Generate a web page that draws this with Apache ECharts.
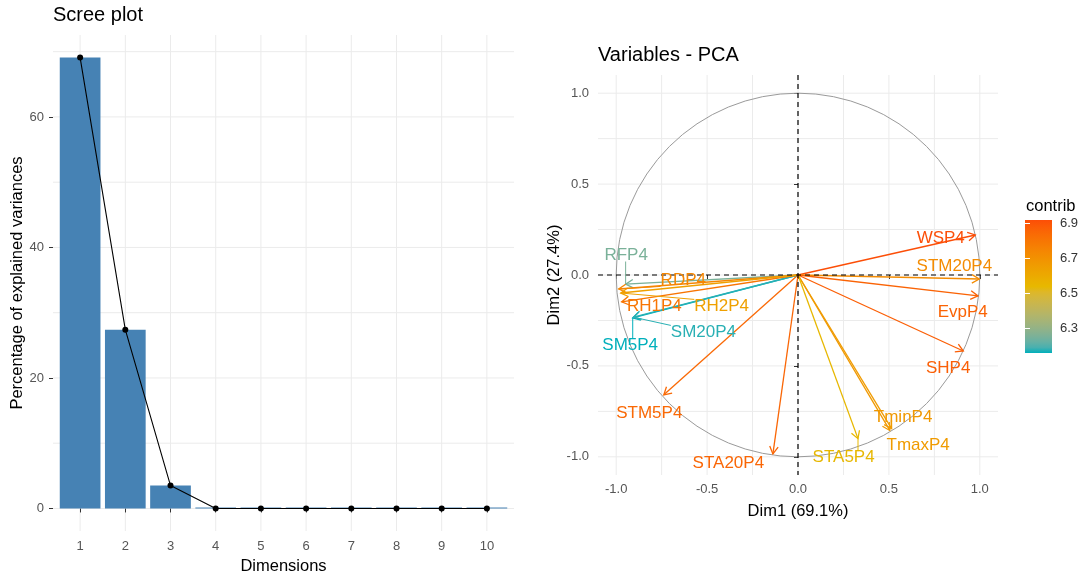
<!DOCTYPE html>
<html><head><meta charset="utf-8">
<script src="https://cdn.jsdelivr.net/npm/echarts@6/dist/echarts.min.js"></script>
<style>html,body{margin:0;padding:0;background:#fff}#c{width:1090px;height:575px}</style>
</head><body><div id="c"></div>
<script>
// ---------- data ----------
const dims = ['1','2','3','4','5','6','7','8','9','10'];
const variance = [69.1, 27.4, 3.5, 0, 0, 0, 0, 0, 0, 0];
const screeYTicks = [0, 20, 40, 60];
const screeYGrid = [0, 10, 20, 30, 40, 50, 60, 70];

const varNames = ['WSP4','STM20P4','EvpP4','SHP4','TminP4','TmaxP4','STA5P4','STA20P4','STM5P4','SM5P4','SM20P4','RFP4','RDP4','RH1P4','RH2P4'];
const dim1 = [0.975, 0.997, 0.99, 0.909, 0.505, 0.515, 0.33, -0.138, -0.738, -0.909, -0.905, -0.948, -0.986, -0.97, -0.975];
const dim2 = [0.22, -0.022, -0.115, -0.418, -0.855, -0.845, -0.90, -0.984, -0.659, -0.236, -0.232, -0.05, -0.077, -0.148, -0.099];
const contrib = [6.917, 6.72, 6.86, 6.87, 6.67, 6.66, 6.54, 6.85, 6.84, 6.157, 6.175, 6.25, 6.74, 6.80, 6.64];
const labelDim1 = [0.785, 0.86, 0.906, 0.826, 0.578, 0.661, 0.251, -0.383, -0.818, -0.923, -0.52, -0.945, -0.631, -0.79, -0.42];
const labelDim2 = [0.203, 0.05, -0.203, -0.511, -0.78, -0.934, -1.005, -1.033, -0.758, -0.385, -0.313, 0.11, -0.027, -0.17, -0.17];
const pcaTicks = [-1, -0.5, 0, 0.5, 1];
const pcaGrid = [-1, -0.75, -0.5, -0.25, 0, 0.25, 0.5, 0.75, 1];
const contribTicks = [6.3, 6.5, 6.7, 6.9];
const gradientCols = ['#00AFBB', '#E7B800', '#FC4E07'];

// ---------- helpers ----------
const FF = '"Liberation Sans", Arial, Helvetica, sans-serif';
const dimNum = dims.map(Number);
const maxVar = Math.max(...variance);
const cMin = Math.min(...contrib), cMax = Math.max(...contrib);

function hex2rgb(h){ h=h.replace('#',''); return [0,2,4].map(i=>parseInt(h.substr(i,2),16)/255); }
function lin(c){ return c<=0.04045 ? c/12.92 : Math.pow((c+0.055)/1.055,2.4); }
function gam(c){ c = c<=0.0031308 ? 12.92*c : 1.055*Math.pow(c,1/2.4)-0.055; return Math.max(0,Math.min(1,c)); }
function rgb2lab(rgb){
  const [r,g,b] = rgb.map(lin);
  const X=(0.4124*r+0.3576*g+0.1805*b)/0.95047, Y=(0.2126*r+0.7152*g+0.0722*b), Z=(0.0193*r+0.1192*g+0.9505*b)/1.08883;
  const f=t=> t>0.008856 ? Math.cbrt(t) : 7.787*t+16/116;
  const fx=f(X), fy=f(Y), fz=f(Z);
  return [116*fy-16, 500*(fx-fy), 200*(fy-fz)];
}
function lab2hex(lab){
  const [L,a,b]=lab; const fy=(L+16)/116, fx=fy+a/500, fz=fy-b/200;
  const fi=t=> t*t*t>0.008856 ? t*t*t : (t-16/116)/7.787;
  const X=fi(fx)*0.95047, Y=fi(fy), Z=fi(fz)*1.08883;
  const r=3.2406*X-1.5372*Y-0.4986*Z, g=-0.9689*X+1.8758*Y+0.0415*Z, bb=0.0557*X-0.2040*Y+1.0570*Z;
  return '#'+[r,g,bb].map(c=>Math.round(gam(c)*255).toString(16).padStart(2,'0')).join('');
}
// Lab-interpolated gradient (like ggplot's gradientn)
const labs = gradientCols.map(c=>rgb2lab(hex2rgb(c)));
const NSTOP = 25;
const rampCols = [];
for (let k=0;k<NSTOP;k++){
  const t = k/(NSTOP-1)*(labs.length-1);
  const i = Math.min(Math.floor(t), labs.length-2), f = t-i;
  rampCols.push(lab2hex(labs[i].map((v,j)=>v+(labs[i+1][j]-v)*f)));
}

const mctx = document.createElement('canvas').getContext('2d');
const LABEL_FONT = '17px ' + FF;
mctx.font = LABEL_FONT;

function hLines(gi, values, style, z){
  return {type:'custom', xAxisIndex:gi, yAxisIndex:gi, z, silent:true, clip:false,
    data: values.map(v=>[v, v]),
    renderItem(params, api){
      const cs = params.coordSys;
      const y = api.coord([0, api.value(1)])[1];
      return {type:'line', shape:{x1:cs.x, y1:y, x2:cs.x+cs.width, y2:y}, style};
    }};
}
function vLines(gi, values, style, z){
  return {type:'custom', xAxisIndex:gi, yAxisIndex:gi, z, silent:true, clip:false,
    data: values.map(v=>[v, v]),
    renderItem(params, api){
      const cs = params.coordSys;
      const x = api.coord([api.value(0), 0])[0];
      return {type:'line', shape:{x1:x, y1:cs.y, x2:x, y2:cs.y+cs.height}, style};
    }};
}
const gridStyle = {stroke:'#ebebeb', lineWidth:1};
const minorStyle = {stroke:'#efefef', lineWidth:0.8};
const tickColor = '#333';
const labelColor = '#555';

const varData = varNames.map((n,i)=>({name:n, value:[dim1[i], dim2[i], contrib[i], labelDim1[i], labelDim2[i]]}));

const series = [
  // 0,1 scree grid
  hLines(0, screeYGrid, gridStyle, 0),
  vLines(0, dimNum, gridStyle, 0),
  // 2 bars
  {type:'bar', xAxisIndex:0, yAxisIndex:0, z:2, barWidth:40.7, barMinHeight:1,
   data: dimNum.map((d,i)=>[d, variance[i]]), itemStyle:{color:'#4682B4'}, silent:true},
  // 3 line + points
  {type:'line', xAxisIndex:0, yAxisIndex:0, z:3, data: dimNum.map((d,i)=>[d, variance[i]]),
   symbol:'circle', symbolSize:6, showSymbol:true, itemStyle:{color:'#000'}, lineStyle:{color:'#000', width:1.1}, silent:true},
  // 4,5 pca grid
  hLines(1, pcaGrid, gridStyle, 0),
  vLines(1, pcaGrid, gridStyle, 0),
  // 6 circle
  {type:'custom', xAxisIndex:1, yAxisIndex:1, z:1, silent:true, clip:false, data:[[0,0]],
   renderItem(params, api){
     const o = api.coord([0,0]); const r = api.coord([1,0])[0]-o[0];
     return {type:'circle', shape:{cx:o[0], cy:o[1], r}, style:{stroke:'#9a9a9a', lineWidth:1, fill:'none'}};
   }},
  // 7 arrows
  {type:'custom', xAxisIndex:1, yAxisIndex:1, z:3, silent:true, clip:false, data: varData,
   renderItem(params, api){
     const o = api.coord([0,0]);
     const p = api.coord([api.value(0), api.value(1)]);
     const col = api.visual('color');
     const ang = Math.atan2(p[1]-o[1], p[0]-o[0]);
     const L = 8.5, A = Math.PI/6;
     return {type:'group', children:[
       {type:'line', shape:{x1:o[0], y1:o[1], x2:p[0], y2:p[1]}, style:{stroke:col, lineWidth:1.3}},
       {type:'polyline', shape:{points:[[p[0]-L*Math.cos(ang-A), p[1]-L*Math.sin(ang-A)], [p[0],p[1]], [p[0]-L*Math.cos(ang+A), p[1]-L*Math.sin(ang+A)]]},
        style:{stroke:col, lineWidth:1.3, fill:'none'}}
     ]};
   }},
  // 8 zero dashed lines
  {type:'custom', xAxisIndex:1, yAxisIndex:1, z:4, silent:true, clip:false, data:[[0,0]],
   renderItem(params, api){
     const cs = params.coordSys; const o = api.coord([api.value(0), api.value(1)]);
     const st = {stroke:'#000', lineWidth:1.2, lineDash:[5,4]};
     return {type:'group', children:[
       {type:'line', shape:{x1:cs.x, y1:o[1], x2:cs.x+cs.width, y2:o[1]}, style:st},
       {type:'line', shape:{x1:o[0], y1:cs.y, x2:o[0], y2:cs.y+cs.height}, style:st}
     ]};
   }},
  // 9 labels
  {type:'custom', xAxisIndex:1, yAxisIndex:1, z:5, silent:true, clip:false, data: varData,
   renderItem(params, api){
     const name = varNames[params.dataIndex];
     const p = api.coord([api.value(0), api.value(1)]);
     const lp = api.coord([api.value(3), api.value(4)]);
     const col = api.visual('color');
     const w = mctx.measureText(name).width, h = 13;
     const nx = Math.max(lp[0]-w/2, Math.min(p[0], lp[0]+w/2));
     const ny = Math.max(lp[1]-h/2, Math.min(p[1], lp[1]+h/2));
     const d = Math.hypot(p[0]-nx, p[1]-ny);
     const children = [];
     if (d > 12) children.push({type:'line', shape:{x1:p[0], y1:p[1], x2:nx, y2:ny}, style:{stroke:col, lineWidth:1}});
     children.push({type:'text', x:lp[0], y:lp[1], style:{text:name, fill:col, font:LABEL_FONT, align:'center', verticalAlign:'middle'}});
     return {type:'group', children};
   }},
  // 10 colorbar
  {type:'custom', xAxisIndex:2, yAxisIndex:2, z:1, silent:true, clip:false, data:[[0.5, cMin]],
   renderItem(params, api){
     const cs = params.coordSys;
     const top = api.coord([0, cMax])[1], bot = api.coord([0, cMin])[1];
     const stops = rampCols.map((c,k)=>({offset: 1 - k/(rampCols.length-1), color:c})).reverse();
     return {type:'rect', shape:{x:cs.x, y:top, width:cs.width, height:bot-top},
       style:{fill:{type:'linear', x:0, y:0, x2:0, y2:1, colorStops:stops}}};
   }}
];

const axisTitle = {fontSize:16.5, color:'#000', fontFamily:FF};
const tickLabel = {fontSize:13, color:labelColor, fontFamily:FF};

const option = {
  animation:false,
  backgroundColor:'#fff',
  textStyle:{fontFamily:FF},
  title:[
    {text:'Scree plot', left:53, top:5, padding:0, textStyle:{fontSize:20, fontWeight:'normal', color:'#000', fontFamily:FF}},
    {text:'Variables - PCA', left:598, top:45, padding:0, textStyle:{fontSize:20, fontWeight:'normal', color:'#000', fontFamily:FF}},
    {text:'contrib', left:1026, top:198, padding:0, textStyle:{fontSize:16.5, fontWeight:'normal', color:'#000', fontFamily:FF}}
  ],
  grid:[
    {left:53, top:35, width:461, height:496, outerBoundsMode:'none'},
    {left:598, top:75, width:400, height:400, outerBoundsMode:'none'},
    {left:1025, top:220, width:27, height:133, outerBoundsMode:'none'}
  ],
  visualMap:[{type:'continuous', show:false, seriesIndex:[7,9], dimension:2, min:cMin, max:cMax, inRange:{color:rampCols}}],
  xAxis:[
    {type:'value', gridIndex:0, min:dimNum[0]-0.6, max:dimNum[dimNum.length-1]+0.6,
     axisLine:{show:false}, splitLine:{show:false},
     axisTick:{show:true, length:4, customValues:dimNum, lineStyle:{color:tickColor, width:1}},
     axisLabel:{customValues:dimNum, margin:9, ...tickLabel, formatter:v=>dims[Math.round(v)-1]},
     name:'Dimensions', nameLocation:'middle', nameGap:26, nameTextStyle:axisTitle},
    {type:'value', gridIndex:1, min:-1.1, max:1.1,
     axisLine:{show:false}, splitLine:{show:false},
     axisTick:{show:true, length:4, customValues:pcaTicks, lineStyle:{color:tickColor, width:1}},
     axisLabel:{customValues:pcaTicks, margin:8, ...tickLabel, formatter:v=>v.toFixed(1)},
     name:'Dim1 (' + variance[0].toFixed(1) + '%)', nameLocation:'middle', nameGap:28, nameTextStyle:axisTitle},
    {type:'value', gridIndex:2, min:0, max:1, show:false}
  ],
  yAxis:[
    {type:'value', gridIndex:0, min:-0.05*maxVar, max:1.05*maxVar,
     axisLine:{show:false}, splitLine:{show:false},
     axisTick:{show:true, length:4, customValues:screeYTicks, lineStyle:{color:tickColor, width:1}},
     axisLabel:{customValues:screeYTicks, margin:9, ...tickLabel},
     name:'Percentage of explained variances', nameLocation:'middle', nameGap:26, nameTextStyle:axisTitle},
    {type:'value', gridIndex:1, min:-1.1, max:1.1,
     axisLine:{show:false}, splitLine:{show:false},
     axisTick:{show:true, length:4, customValues:pcaTicks, lineStyle:{color:tickColor, width:1}},
     axisLabel:{customValues:pcaTicks, margin:9, ...tickLabel, formatter:v=>v.toFixed(1)},
     name:'Dim2 (' + variance[1].toFixed(1) + '%)', nameLocation:'middle', nameGap:33, nameTextStyle:axisTitle},
    {type:'value', gridIndex:2, position:'right', min:cMin, max:cMax, z:6,
     axisLine:{show:false}, splitLine:{show:false},
     axisTick:{show:true, inside:true, length:5, customValues:contribTicks, lineStyle:{color:'#fff', width:1}},
     axisLabel:{customValues:contribTicks, margin:8, fontSize:13, color:'#333', fontFamily:FF, formatter:v=>v.toFixed(1)}},
    {type:'value', gridIndex:2, position:'left', min:cMin, max:cMax, z:6,
     axisLine:{show:false}, splitLine:{show:false},
     axisTick:{show:true, inside:true, length:5, customValues:contribTicks, lineStyle:{color:'#fff', width:1}},
     axisLabel:{show:false}}
  ],
  series
};
const chart = echarts.init(document.getElementById('c'), null, {renderer:'canvas'});
chart.setOption(option);
</script>
</body></html>
